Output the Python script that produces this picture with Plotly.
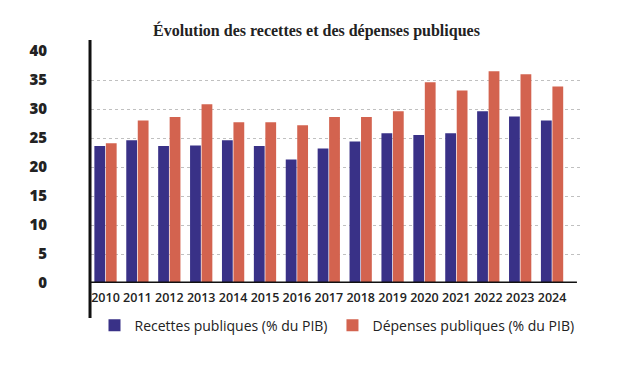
import plotly.graph_objects as go

years = ["2010", "2011", "2012", "2013", "2014", "2015", "2016", "2017",
         "2018", "2019", "2020", "2021", "2022", "2023", "2024"]
recettes = [23.6, 24.6, 23.6, 23.7, 24.6, 23.6, 21.3, 23.2,
            24.4, 25.8, 25.5, 25.8, 29.6, 28.7, 28.0]
depenses = [24.1, 28.0, 28.6, 30.8, 27.7, 27.7, 27.2, 28.6,
            28.6, 29.6, 34.6, 33.2, 36.5, 36.0, 33.9]
y_ticks = [0, 5, 10, 15, 20, 25, 30, 35, 40]

BLUE = "#393187"
RED = "#D3634F"

fig = go.Figure()
fig.add_trace(go.Bar(x=years, y=recettes, name="Recettes publiques (% du PIB)",
                     marker=dict(color=BLUE, line=dict(width=0))))
fig.add_trace(go.Bar(x=years, y=depenses, name="Dépenses publiques (% du PIB)",
                     marker=dict(color=RED, line=dict(width=0))))

fig.update_layout(
    width=614, height=361,
    margin=dict(l=83, r=39, t=43, b=86, autoexpand=False),
    paper_bgcolor="white", plot_bgcolor="white",
    barmode="group", bargap=0.28, bargroupgap=0.06,
    title=dict(text="<b>Évolution des recettes et des dépenses publiques</b>",
               x=0.5024, xanchor="center", y=0.939, yanchor="middle",
               font=dict(family="Liberation Serif", size=16, color="#222")),
    showlegend=True,
    legend=dict(orientation="h", x=0.5, xanchor="center", y=-0.115, yanchor="top",
                font=dict(family="Open Sans", size=14, color="#222"),
                itemwidth=30, traceorder="normal"),
    font=dict(family="Open Sans", color="#222"),
)

fig.update_xaxes(
    type="category", range=[-0.455, 14.97],
    showgrid=False, showline=False, ticks="",
    ticklabelstandoff=5,
    tickfont=dict(family="Open Sans", size=12.5, color="#222", weight=600),
)
fig.update_yaxes(
    range=[0, 40], tickvals=y_ticks,
    showgrid=True, gridcolor="#c0c0c0", griddash="dot", gridwidth=1,
    zeroline=False, showline=False, ticks="",
    ticklabelstandoff=43,
    tickfont=dict(family="Open Sans", size=15, color="#222", weight=800),
)

# vertical axis rule extending beyond the plot area
fig.add_shape(type="line", xref="paper", yref="paper",
              x0=-0.002, x1=-0.002, y0=1.047, y1=-0.151,
              line=dict(color="#111", width=3))
# baseline
fig.add_shape(type="line", xref="x", yref="y",
              x0=-0.455, x1=14.78, y0=0, y1=0,
              line=dict(color="#111", width=3))

fig.write_html("out.html")
